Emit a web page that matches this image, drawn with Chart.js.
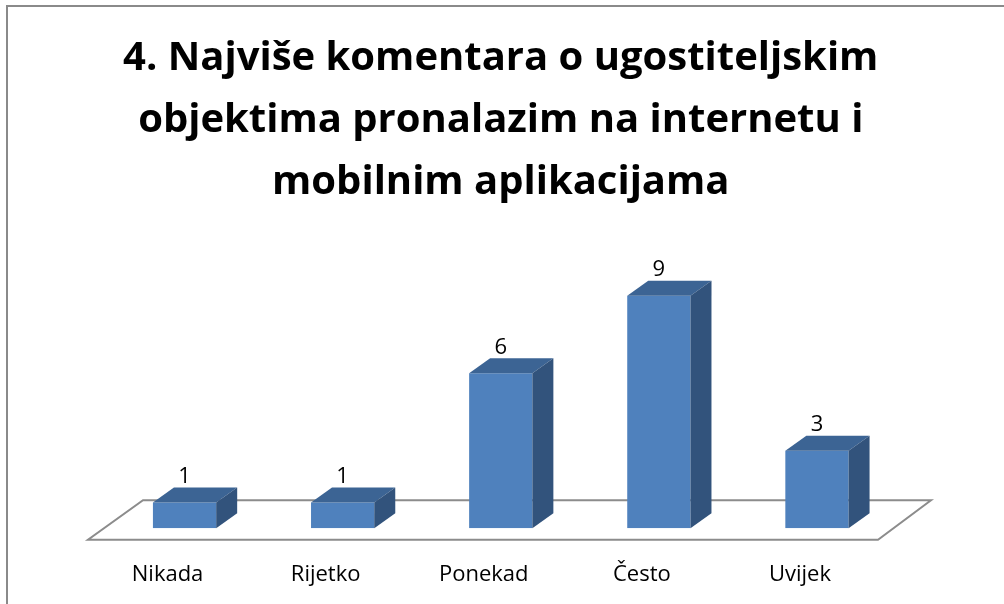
<!DOCTYPE html>
<html>
<head>
<meta charset="utf-8">
<script src="https://cdn.jsdelivr.net/npm/chart.js@4/dist/chart.umd.min.js"></script>
<style>
  html, body { margin: 0; padding: 0; background: #fff; }
  #wrap { position: relative; width: 1004px; height: 604px; }
  #frame { position: absolute; left: 6px; top: 5px; right: 0; bottom: 0;
           border-top: 2px solid #8a8a8a; border-left: 2px solid #8a8a8a; }
  canvas { position: absolute; left: 0; top: 0; }
</style>
</head>
<body>
<div id="wrap">
  <div id="frame"></div>
  <canvas id="barChart" width="1004" height="604"></canvas>
</div>
<script>
// podaci s grafikona
const categories = ['Nikada', 'Rijetko', 'Ponekad', 'Često', 'Uvijek'];
const counts = [1, 1, 6, 9, 3];
const titleLines = ['4. Najviše komentara o ugostiteljskim', 'objektima pronalazim na internetu i', 'mobilnim aplikacijama'];

// dubina 3D stupca
const depthX = 21, depthY = 15;

const bar3d = {
    id: 'bar3d',
    beforeDatasetsDraw(chart) {
        // pod (ravnina) ispod stupaca
        const { ctx, chartArea: a, scales } = chart;
        const base = scales.y.getPixelForValue(0);
        const fy = base + 11.5, by = base - 28;
        ctx.save();
        ctx.strokeStyle = '#8c8c8c';
        ctx.lineWidth = 2;
        ctx.beginPath();
        ctx.moveTo(a.left - 17.5, fy);
        ctx.lineTo(a.right - 18, fy);
        ctx.lineTo(a.right + 35, by);
        ctx.lineTo(a.left + 37.5, by);
        ctx.closePath();
        ctx.stroke();
        ctx.restore();
    },
    afterDatasetsDraw(chart) {
        const { ctx } = chart;
        const meta = chart.getDatasetMeta(0);
        ctx.save();
        meta.data.forEach((bar, i) => {
            const l = bar.x - bar.width / 2, r = bar.x + bar.width / 2;
            // gornja ploha
            ctx.fillStyle = '#3c6494';
            ctx.beginPath();
            ctx.moveTo(l, bar.y);
            ctx.lineTo(l + depthX, bar.y - depthY);
            ctx.lineTo(r + depthX, bar.y - depthY);
            ctx.lineTo(r, bar.y);
            ctx.closePath();
            ctx.fill();
            // bočna ploha
            ctx.fillStyle = '#32537c';
            ctx.beginPath();
            ctx.moveTo(r, bar.y);
            ctx.lineTo(r + depthX, bar.y - depthY);
            ctx.lineTo(r + depthX, bar.base - depthY);
            ctx.lineTo(r, bar.base);
            ctx.closePath();
            ctx.fill();
            // oznaka vrijednosti
            ctx.fillStyle = '#000';
            ctx.font = '22px "Open Sans", sans-serif';
            ctx.textAlign = 'center';
            ctx.textBaseline = 'middle';
            ctx.fillText(String(counts[i]), bar.x, bar.y - 26);
        });
        ctx.restore();
    }
};

const ctx = document.getElementById('barChart').getContext('2d');
const barChart = new Chart(ctx, {
    type: 'bar',
    data: {
        labels: categories,
        datasets: [{
            data: counts,
            backgroundColor: '#4f81bd',
            borderWidth: 0,
            categoryPercentage: 1,
            barPercentage: 0.4
        }]
    },
    options: {
        responsive: false,
        animation: false,
        layout: { padding: { left: 105.5, right: 108, top: 0, bottom: -18.2 } },
        plugins: {
            legend: { display: false },
            tooltip: { enabled: false },
            title: {
                display: true,
                text: titleLines,
                color: '#000',
                font: { family: '"Open Sans", sans-serif', size: 40, weight: 'bold', lineHeight: 1.55 },
                padding: { top: 27.5, bottom: 56.5 }
            }
        },
        scales: {
            x: {
                grid: { display: false, drawTicks: false },
                border: { display: false },
                ticks: {
                    color: '#000',
                    font: { family: '"Open Sans", sans-serif', size: 22 },
                    padding: 33.8,
                    labelOffset: -17
                }
            },
            y: { display: false, min: 0, max: 10 }
        }
    },
    plugins: [bar3d]
});
</script>
</body>
</html>
